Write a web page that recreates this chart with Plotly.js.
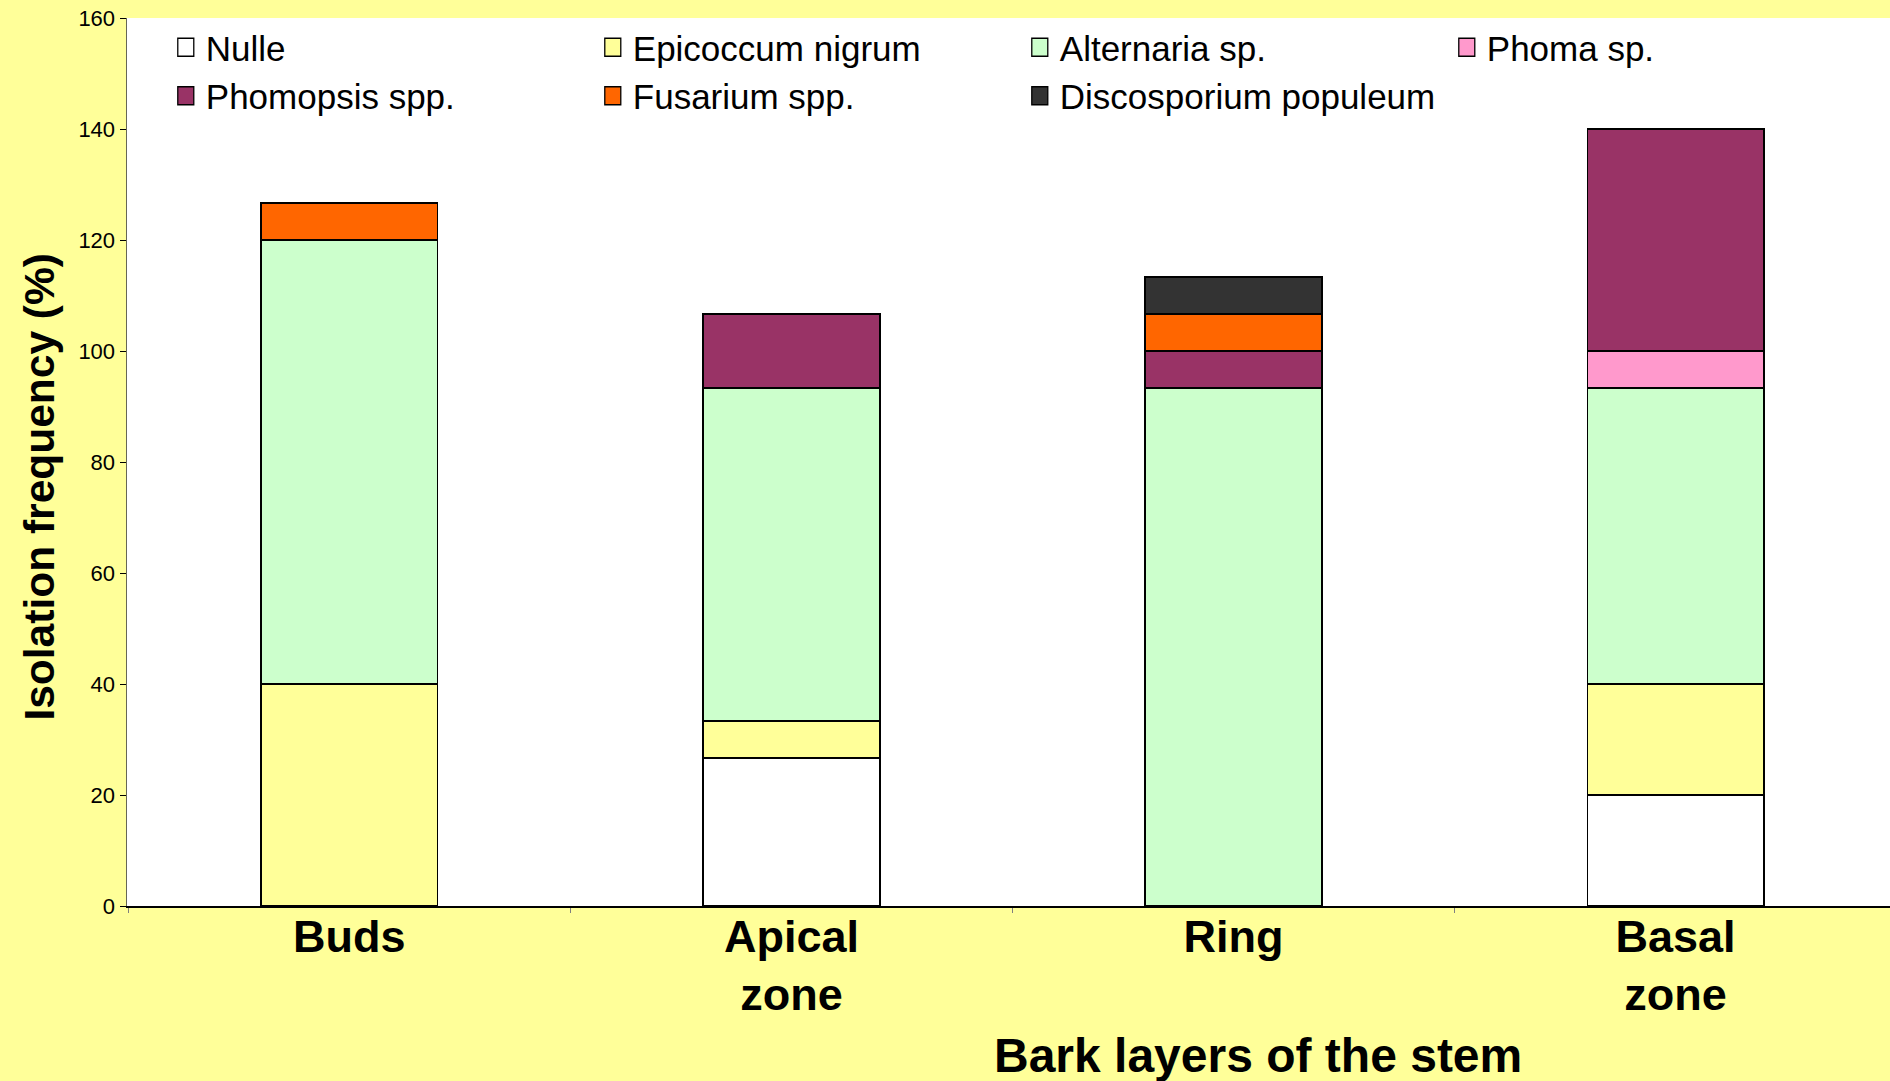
<!DOCTYPE html>
<html>
<head>
<meta charset="utf-8">
<script src="https://cdn.plot.ly/plotly-3.0.1.min.js"></script>
<style>html,body{margin:0;padding:0;background:#FFFF99;}#chart{width:1890px;height:1081px;}</style>
</head>
<body>
<div id="chart"></div>
<script>
const categories = ["Buds", "Apical<br>zone", "Ring", "Basal<br>zone"];
const seriesNames = ["Nulle", "Epicoccum nigrum", "Alternaria sp.", "Phoma sp.", "Phomopsis spp.", "Fusarium spp.", "Discosporium populeum"];
const nulle        = [0, 26.67, 0, 20];
const epicoccum    = [40, 6.67, 0, 20];
const alternaria   = [80, 60, 93.33, 53.33];
const phoma        = [0, 0, 0, 6.67];
const phomopsis    = [0, 13.33, 6.67, 40];
const fusarium     = [6.67, 0, 6.67, 0];
const discosporium = [0, 0, 6.67, 0];
const yTicks = [0, 20, 40, 60, 80, 100, 120, 140, 160];

const seriesValues = [nulle, epicoccum, alternaria, phoma, phomopsis, fusarium, discosporium];
const colors = ["#FFFFFF", "#FFFF99", "#CCFFCC", "#FF99CC", "#993366", "#FF6600", "#333333"];

const traces = seriesNames.map((name, i) => ({
  type: "bar",
  name: name,
  x: categories,
  y: seriesValues[i],
  marker: {color: colors[i], line: {color: "#000000", width: 1.3}},
  hoverinfo: "name+y"
}));

const layout = {
  width: 1890,
  height: 1081,
  paper_bgcolor: "#FFFF99",
  plot_bgcolor: "#FFFFFF",
  barmode: "stack",
  bargap: 0.6,
  margin: {l: 127, r: 0, t: 18, b: 175},
  font: {family: "Liberation Sans, Arial, sans-serif", color: "#000000"},
  xaxis: {
    type: "category",
    range: [-0.503, 3.485],
    tickfont: {size: 45, family: "Liberation Sans, Arial, sans-serif", weight: "bold"},
    ticks: "outside",
    tickson: "boundaries",
    ticklen: 5,
    tickcolor: "#808080",
    ticklabelstandoff: -10,
    showline: true,
    linecolor: "#000000",
    linewidth: 1.5,
    showgrid: false,
    zeroline: false
  },
  yaxis: {
    range: [0, 160],
    tickvals: yTicks,
    ticktext: yTicks.map(String),
    tickfont: {size: 22},
    ticks: "outside",
    ticklen: 6,
    tickcolor: "#000000",
    showline: true,
    linecolor: "#666655",
    linewidth: 1.5,
    showgrid: false,
    zeroline: false
  },
  legend: {
    orientation: "h",
    traceorder: "normal",
    x: 0.022,
    xanchor: "left",
    y: 1,
    yanchor: "top",
    bgcolor: "rgba(0,0,0,0)",
    font: {size: 35},
    entrywidth: 382,
    entrywidthmode: "pixels",
    tracegroupgap: 0
  },
  annotations: [{
    text: "Bark layers of the stem",
    xref: "paper", yref: "paper",
    x: 0.6415, y: -0.168,
    xanchor: "center", yanchor: "middle",
    showarrow: false,
    font: {size: 48, weight: "bold"}
  }, {
    text: "Isolation frequency (%)",
    xref: "paper", yref: "paper",
    x: -0.0495, y: 0.472,
    xanchor: "center", yanchor: "middle",
    textangle: -90,
    showarrow: false,
    font: {size: 42.5, weight: "bold"}
  }],
  showlegend: true
};

Plotly.newPlot("chart", traces, layout, {displayModeBar: false, staticPlot: true}).then(function () {
  document.querySelectorAll("#chart .legend .legendpoints path").forEach(function (p) {
    p.setAttribute("d", "M8,9H-8V-9H8Z");
  });
});
</script>
</body>
</html>
